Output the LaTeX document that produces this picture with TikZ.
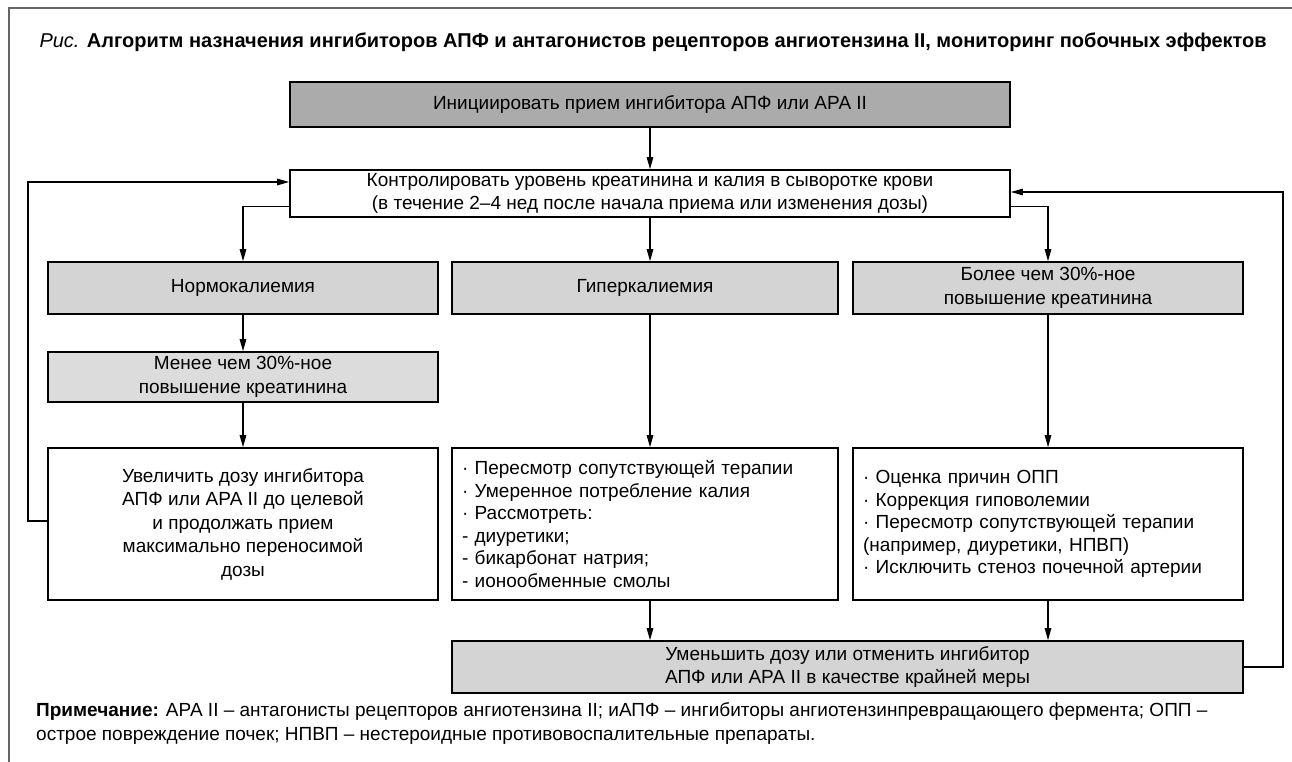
\documentclass[tikz,border=0pt]{standalone}
\usepackage{fontspec}
\setmainfont{Liberation Sans}
\usetikzlibrary{arrows.meta,calc}
\definecolor{darkfill}{HTML}{ABABAB}
\definecolor{lightfill}{HTML}{D4D4D4}
\definecolor{lighterfill}{HTML}{DCDCDC}
\begin{document}
\begin{tikzpicture}[x=1pt,y=-1pt,
  box/.style={draw=black,line width=1.6pt,inner sep=0pt,align=center,
    font=\fontsize{19}{23.5}\selectfont},
  listbox/.style={box,align=left,inner xsep=10pt,font=\fontsize{19}{22.5}\selectfont},
  conn/.style={line width=1.2pt,-{Triangle[length=12pt,width=6.5pt]}}]
\useasboundingbox (0,0) rectangle (1292,762);
\draw[line width=1.4pt,black!60] (9,762) -- (9,8) -- (1292,8);
\node[anchor=west,font=\fontsize{20}{24}\selectfont] (title) at (36,42)
  {{\itshape Рис.} \textbf{Алгоритм назначения ингибиторов АПФ и антагонистов рецепторов ангиотензина II, мониторинг побочных эффектов}};
\node[box,fill=darkfill,minimum width=720pt,minimum height=45pt] (b1) at (650,104.5)
  {Инициировать прием ингибитора АПФ или АРА II};
\node[box,fill=white,minimum width=720pt,minimum height=47pt] (b2) at (650,193.5)
  {Контролировать уровень креатинина и калия в сыворотке крови\\(в течение 2–4 нед после начала приема или изменения дозы)};
\node[box,fill=lightfill,minimum width=390pt,minimum height=52pt] (n1) at (243,288) {Нормокалиемия};
\node[box,fill=lightfill,minimum width=386pt,minimum height=52pt] (n2) at (645,288) {Гиперкалиемия};
\node[box,fill=lightfill,minimum width=390pt,minimum height=52pt] (n3) at (1048,288)
  {Более чем 30\%-ное\\повышение креатинина};
\node[box,fill=lighterfill,minimum width=390pt,minimum height=50pt] (m1) at (243,377)
  {Менее чем 30\%-ное\\повышение креатинина};
\node[box,fill=white,minimum width=390pt,minimum height=152pt] (r1) at (243,524)
  {Увеличить дозу ингибитора\\АПФ или АРА II до целевой\\и продолжать прием\\максимально переносимой\\дозы};
\node[listbox,fill=white,text width=366pt,minimum height=152pt] (r2) at (645,524)
  { · Пересмотр сопутствующей терапии\\ · Умеренное потребление калия\\ · Рассмотреть:\\- диуретики;\\- бикарбонат натрия;\\- ионообменные смолы};
\node[listbox,fill=white,text width=370pt,minimum height=152pt] (r3) at (1048,524)
  { · Оценка причин ОПП\\ · Коррекция гиповолемии\\ · Пересмотр сопутствующей терапии\\(например, диуретики, НПВП)\\ · Исключить стеноз почечной артерии};
\node[box,fill=lightfill,minimum width=791pt,minimum height=52pt] (d) at (847.5,667)
  {Уменьшить дозу или отменить ингибитор\\АПФ или АРА II в качестве крайней меры};
\node[anchor=north west,align=left,font=\fontsize{19}{24}\selectfont,inner sep=0pt] (note) at (36,702)
  {\textbf{Примечание:} АРА II – антагонисты рецепторов ангиотензина II; иАПФ – ингибиторы ангиотензинпревращающего фермента; ОПП –\\острое повреждение почек; НПВП – нестероидные противовоспалительные препараты.};
% connectors
\draw[conn] (b1.south) -- (b2.north);
\draw[conn] ($(b2.west)+(0,13)$) -| (n1.north);
\draw[conn] (b2.south) -- (b2.south |- n2.north);
\draw[conn] ($(b2.east)+(0,13)$) -| (n3.north);
\draw[conn] (n1.south) -- (m1.north);
\draw[conn] (m1.south) -- (r1.north);
\draw[conn] (b2.south |- n2.south) -- (b2.south |- r2.north);
\draw[conn] (n3.south) -- (r3.north);
\draw[conn] (b2.south |- r2.south) -- (b2.south |- d.north);
\draw[conn] (r3.south) -- (r3.south |- d.north);
\coordinate (lc1) at (28,521);
\coordinate (lc2) at (28,182);
\draw[conn] (r1.west |- lc1) -- (lc1) -- (lc2) -- (b2.west |- lc2);
\coordinate (rc1) at (1283,667);
\coordinate (rc2) at (1283,192);
\draw[conn] (d.east |- rc1) -- (rc1) -- (rc2) -- (b2.east |- rc2);
\end{tikzpicture}
\end{document}
